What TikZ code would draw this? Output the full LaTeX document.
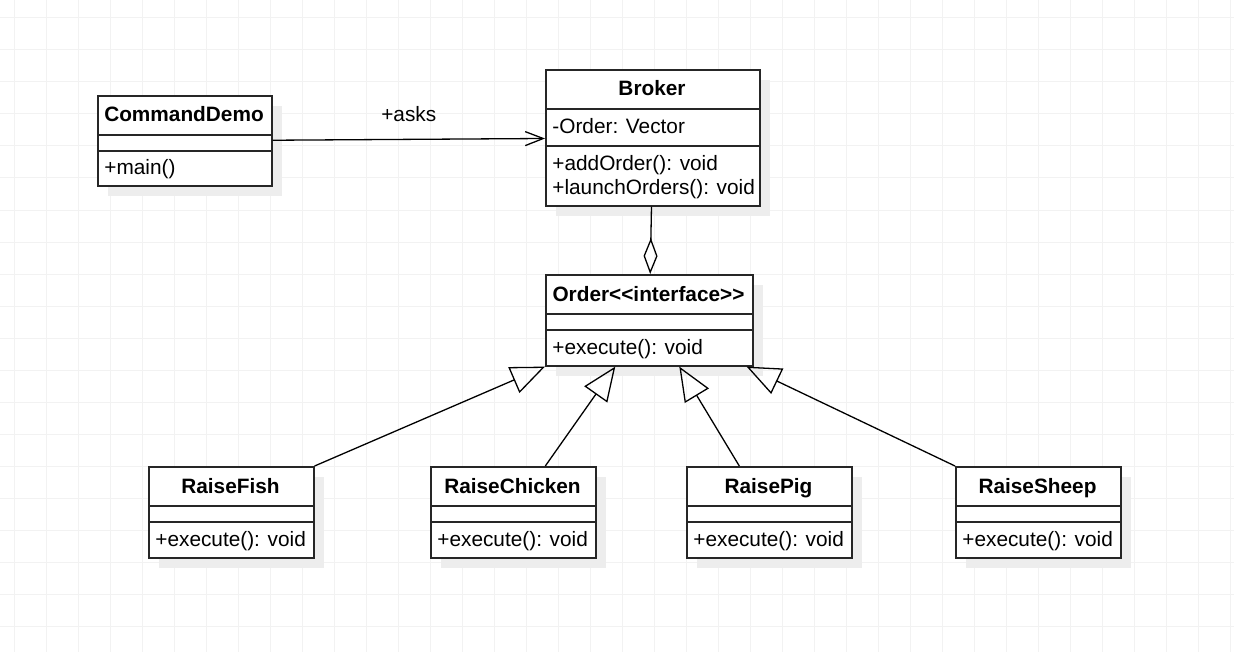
\documentclass[tikz,border=0pt]{standalone}
\usepackage{fontspec}
\setmainfont{Liberation Sans}
\usetikzlibrary{arrows.meta,shadows}

\tikzset{
  clsbox/.style={draw=black!85, line width=0.8pt, fill=white, anchor=north west, inner sep=0pt,
    drop shadow={shadow xshift=5pt, shadow yshift=-5pt, fill=black!7, opacity=1}},
  clstitle/.style={font=\fontsize{10.4}{12}\selectfont\bfseries, anchor=base, inner sep=0pt},
  clsmember/.style={font=\fontsize{10.4}{12}\selectfont, anchor=base west, inner sep=0pt},
  clsline/.style={draw=black!85, line width=0.8pt},
  gridline/.style={draw=black!5, line width=0.5pt},
  assoc/.style={line width=0.65pt, -{Straight Barb[length=9pt,width=7pt]}},
  aggr/.style={line width=0.65pt, -{Diamond[open,length=18pt,width=7pt]}},
  realize/.style={line width=0.65pt, -{Triangle[open,length=17pt,width=14pt]}}
}

\begin{document}
\begin{tikzpicture}[x=0.5pt,y=-0.5pt]
\useasboundingbox[fill=white] (0,0) rectangle (1234,652);

% background grid
\foreach \gx in {14,46,...,1234} \draw[gridline] (\gx,0) -- (\gx,652);
\foreach \gy in {18,50,...,652} \draw[gridline] (0,\gy) -- (1234,\gy);

% CommandDemo
\node[clsbox, minimum width=87pt, minimum height=45pt] (cmd) at (97,95) {};
\node[clstitle] (cmdT) at (184,122) {CommandDemo};
\draw[clsline] (cmd.west |- 0,135) -- (cmd.east |- 0,135);
\draw[clsline] (cmd.west |- 0,151) -- (cmd.east |- 0,151);
\node[clsmember] (cmdM) at (104,175) {+main()};

% Broker
\node[clsbox, minimum width=107pt, minimum height=68pt] (broker) at (545,69) {};
\node[clstitle] (brokerT) at (652,96) {Broker};
\draw[clsline] (broker.west |- 0,109) -- (broker.east |- 0,109);
\node[clsmember] (brokerA) at (552,134) {-Order: Vector};
\draw[clsline] (broker.west |- 0,146) -- (broker.east |- 0,146);
\node[clsmember] (brokerM1) at (552,170) {+addOrder(): void};
\node[clsmember] (brokerM2) at (552,194) {+launchOrders(): void};

% Order interface
\node[clsbox, minimum width=103.5pt, minimum height=45.5pt] (order) at (545,274) {};
\node[clstitle] (orderT) at (648.5,301) {Order<{}<interface>{}>};
\draw[clsline] (order.west |- 0,314) -- (order.east |- 0,314);
\draw[clsline] (order.west |- 0,330) -- (order.east |- 0,330);
\node[clsmember] (orderM) at (552,354) {+execute(): void};

% concrete orders
\node[clsbox, minimum width=82.5pt, minimum height=45.5pt] (fish) at (148,466) {};
\node[clstitle] (fishT) at (230.5,493) {RaiseFish};
\draw[clsline] (fish.west |- 0,506) -- (fish.east |- 0,506);
\draw[clsline] (fish.west |- 0,522) -- (fish.east |- 0,522);
\node[clsmember] (fishM) at (155,546) {+execute(): void};

\node[clsbox, minimum width=82.5pt, minimum height=45.5pt] (chicken) at (430,466) {};
\node[clstitle] (chickenT) at (512.5,493) {RaiseChicken};
\draw[clsline] (chicken.west |- 0,506) -- (chicken.east |- 0,506);
\draw[clsline] (chicken.west |- 0,522) -- (chicken.east |- 0,522);
\node[clsmember] (chickenM) at (437,546) {+execute(): void};

\node[clsbox, minimum width=82.5pt, minimum height=45.5pt] (pig) at (686,466) {};
\node[clstitle] (pigT) at (768.5,493) {RaisePig};
\draw[clsline] (pig.west |- 0,506) -- (pig.east |- 0,506);
\draw[clsline] (pig.west |- 0,522) -- (pig.east |- 0,522);
\node[clsmember] (pigM) at (693,546) {+execute(): void};

\node[clsbox, minimum width=82.5pt, minimum height=45.5pt] (sheep) at (955,466) {};
\node[clstitle] (sheepT) at (1037.5,493) {RaiseSheep};
\draw[clsline] (sheep.west |- 0,506) -- (sheep.east |- 0,506);
\draw[clsline] (sheep.west |- 0,522) -- (sheep.east |- 0,522);
\node[clsmember] (sheepM) at (962,546) {+execute(): void};

% relations
\draw[assoc] (cmd) -- node[above=5pt, font=\fontsize{10.4}{12}\selectfont] {+asks} (broker);
\draw[aggr] (broker) -- (order);
\draw[realize] (fish.north east) -- (order.south west);
\draw[realize] ([xshift=16pt]chicken.north) -- ([xshift=-17pt]order.south);
\draw[realize] ([xshift=-15pt]pig.north) -- ([xshift=15pt]order.south);
\draw[realize] (sheep.north west) -- ([xshift=-3.5pt]order.south east);
\end{tikzpicture}
\end{document}
